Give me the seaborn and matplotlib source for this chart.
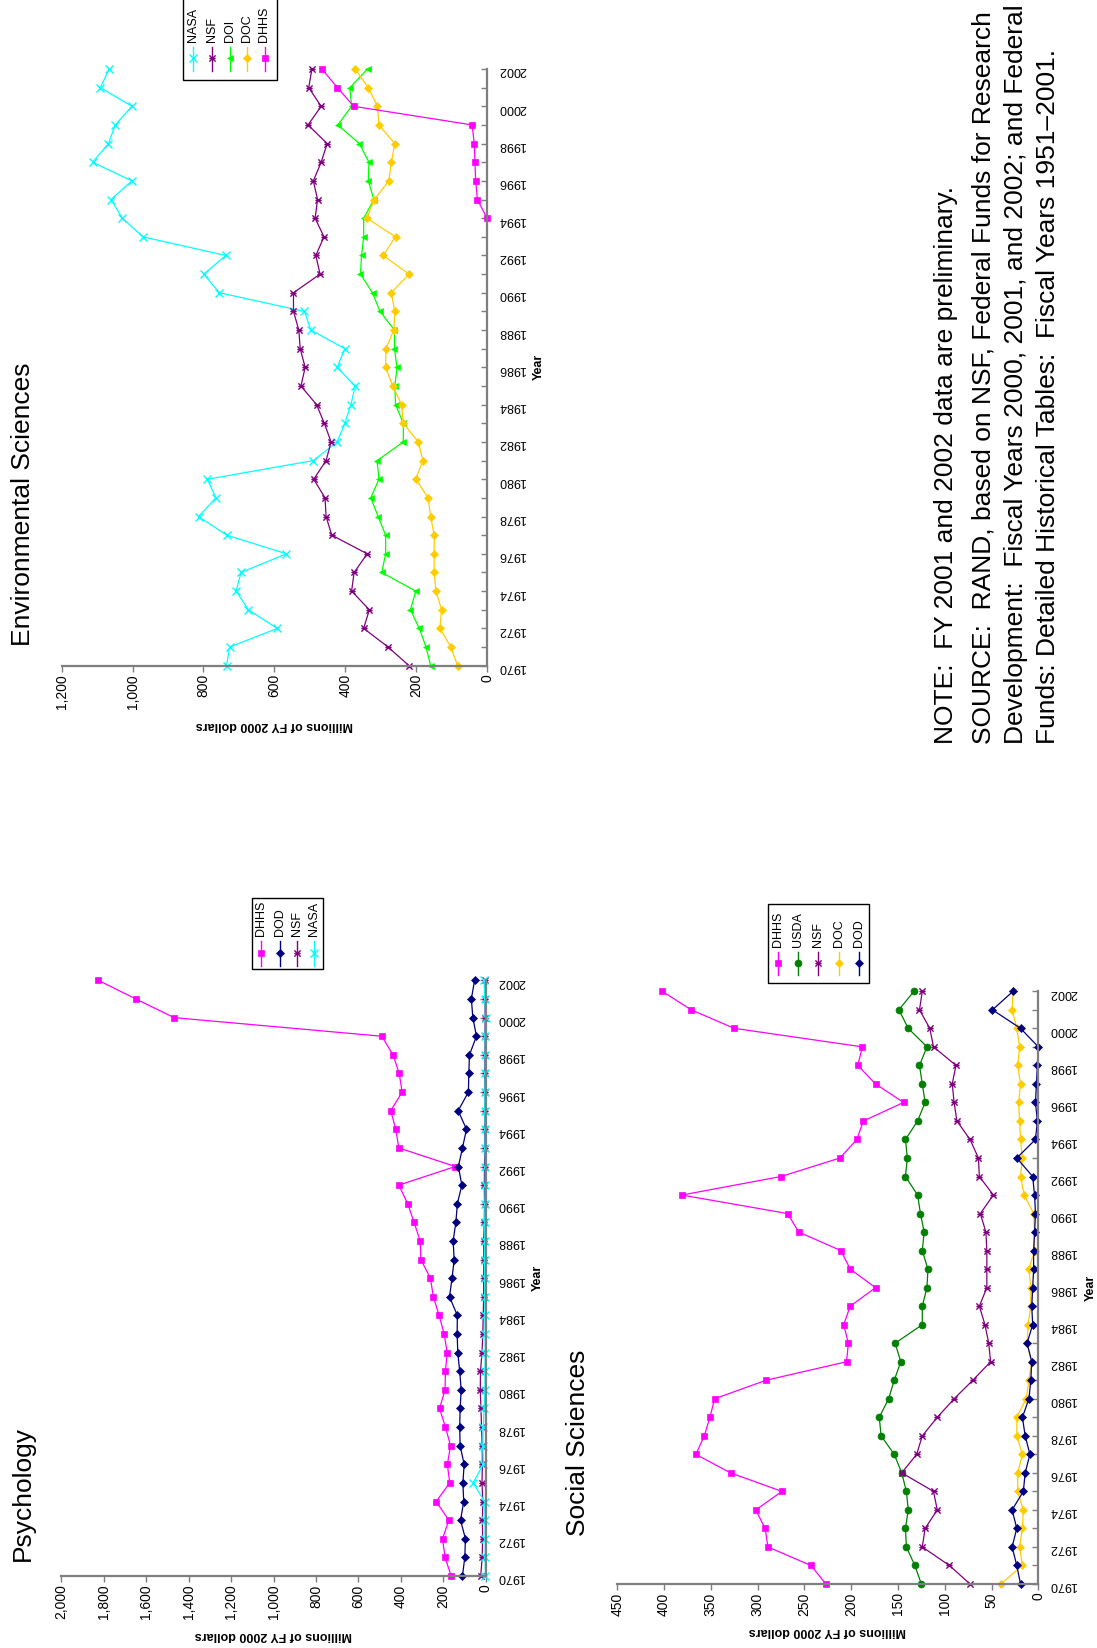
import numpy as np
import matplotlib
matplotlib.use('Agg')
import matplotlib.pyplot as plt
from matplotlib.path import Path
from matplotlib.patches import Rectangle
from matplotlib.ticker import FuncFormatter, MultipleLocator
import seaborn as sns

plt.rcParams['font.family'] = ['Liberation Sans', 'DejaVu Sans']

years = np.arange(1970, 2003)

# Environmental Sciences
env_nasa = [735, 726, 592, 673, 708, 694, 566, 734, 814, 765, 789, 490, 423, 401, 384, 372, 423,
            401, 497, 515, 755, 799, 737, 971, 1029, 1061, 1002, 1113, 1068, 1049, 1002, 1091, 1066]
env_nsf = [220, 279, 348, 332, 382, 375, 338, 438, 454, 457, 489, 454, 440, 459, 481, 525, 513,
           527, 531, 546, 546, 471, 483, 460, 485, 478, 490, 468, 451, 505, 468, 503, 494]
env_doi = [159, 172, 191, 216, 201, 297, 286, 286, 307, 328, 305, 310, 236, 236, 258, 260, 254,
           261, 261, 302, 323, 357, 354, 348, 348, 319, 335, 333, 360, 421, 382, 387, 337]
env_doc = [83, 102, 133, 128, 144, 149, 149, 149, 159, 166, 201, 181, 194, 236, 241, 266, 286,
           285, 263, 260, 270, 220, 293, 258, 339, 318, 277, 270, 260, 305, 309, 335, 372]
env_dhhs = [np.nan] * 24 + [0, 27, 32, 34, 36, 42, 376, 422, 466]

# Psychology
psy_dhhs = [163, 192, 204, 174, 234, 170, 181, 166, 190, 218, 192, 190, 182, 196, 220, 247, 261,
            306, 309, 338, 368, 410, 144, 410, 424, 448, 394, 408, 437, 490, 1469, 1648, 1825]
psy_dod = [110, 99, 96, 119, 104, 108, 102, 121, 123, 121, 116, 123, 132, 135, 134, 171, 159,
           149, 154, 141, 134, 113, 129, 110, 91, 130, 82, 80, 77, 44, 61, 68, 53]
psy_nsf = [24, 17, 15, 16, 14, 18, 16, 17, 20, 23, 26, 25, 18, 14, 12, 10, 10,
           9, 10, 7, 6, 7, 6, 5, 5, 5, 4, 5, 4, 4, 3, 4, 4]
psy_nasa = [2, 3, 3, 4, 5, 60, 12, 14, 12, 8, 4, 4, 3, 3, 4, 5, 5,
            6, 5, 5, 4, 3, 2, 4, 3, 5, 4, 3, 2, 4, 0, 5, 8]

# Social Sciences
soc_dhhs = [227, 243, 289, 292, 302, 274, 329, 366, 357, 351, 346, 291, 205, 203, 208, 201, 174,
            201, 211, 256, 268, 381, 275, 212, 194, 187, 144, 174, 193, 188, 325, 371, 402]
soc_usda = [125, 132, 141, 142, 139, 141, 146, 154, 168, 170, 160, 154, 147, 153, 124, 124, 119,
            118, 124, 122, 126, 129, 142, 140, 142, 129, 121, 124, 127, 119, 139, 149, 133]
soc_nsf = [73, 95, 124, 121, 108, 112, 146, 130, 124, 108, 90, 70, 51, 53, 57, 63, 55,
           55, 55, 56, 62, 48, 63, 64, 73, 87, 90, 92, 88, 112, 116, 127, 124]
soc_doc = [40, 17, 20, 17, 16, 22, 22, 17, 23, 23, 13, 10, 7, 12, 11, 8, 8,
           10, 4, 4, 5, 15, 19, 17, 19, 20, 21, 19, 22, 20, 23, 28, 27]
soc_dod = [19, 23, 28, 23, 28, 16, 14, 9, 14, 17, 10, 8, 7, 12, 6, 7, 6,
           5, 5, 4, 3, 4, 6, 23, 3, 1, 3, 2, 1, 0, 19, 49, 27]

star = Path([(-1, -1), (1, 1), (-1, 1), (1, -1), (-1, 0), (1, 0)],
            [Path.MOVETO, Path.LINETO, Path.MOVETO, Path.LINETO, Path.MOVETO, Path.LINETO])

CYAN, PURPLE, LIME, GOLD, MAGENTA = '#00FFFF', '#800080', '#00FF00', '#FFCC00', '#FF00FF'
NAVY, GREEN = '#000080', '#008000'
style = {
    'NASA': (CYAN, 'x', 5.5, True),
    'NSF': (PURPLE, star, 4.5, True),
    'DOI': (LIME, '<', 5, False),
    'DOC': (GOLD, 'D', 4, False),
    'DHHS': (MAGENTA, 's', 5, False),
    'DOD': (NAVY, 'D', 4, False),
    'USDA': (GREEN, 'o', 5, False),
}

W, H = 1097, 1648
fig = plt.figure(figsize=(W / 100, H / 100), dpi=100)


def panel(box, series, xmax, xstep, ylabel_pad):
    x0, x1, y0, y1 = box
    ax = fig.add_axes([x0 / W, 1 - y1 / H, (x1 - x0) / W, (y1 - y0) / H])
    for name, vals in series:
        color, marker, ms, hollow = style[name]
        vals = np.asarray(vals, dtype=float)
        ok = ~np.isnan(vals)
        sns.lineplot(x=vals[ok], y=years[ok], orient='y', estimator=None, ax=ax,
                     color=color, linewidth=0.9, marker=marker, markersize=ms,
                     markeredgecolor=color, markerfacecolor='none' if hollow else color,
                     markeredgewidth=1.0 if hollow else 0.5, clip_on=False, legend=False)
    ax.set_xlim(xmax, 0)
    ax.set_ylim(1970, 2002)
    ax.xaxis.set_major_locator(MultipleLocator(xstep))
    ax.xaxis.set_major_formatter(FuncFormatter(lambda v, p: f'{v:,.0f}'))
    ax.yaxis.set_major_locator(MultipleLocator(2))
    ax.yaxis.set_minor_locator(MultipleLocator(1))
    ax.yaxis.tick_right()
    ax.yaxis.set_label_position('right')
    for s in ['top', 'left']:
        ax.spines[s].set_visible(False)
    for s in ['right', 'bottom']:
        ax.spines[s].set_color('#7f7f7f')
        ax.spines[s].set_linewidth(1.6)
    ax.tick_params(axis='x', direction='out', length=4, width=1, color='#7f7f7f',
                   labelsize=10, labelrotation=90, pad=2)
    ax.tick_params(axis='y', which='both', direction='in', length=4, width=1,
                   color='#7f7f7f', labelsize=9, labelrotation=180, pad=8)
    ax.set_xlabel('Millions of FY 2000 dollars', rotation=180, fontweight='bold',
                  fontsize=9, labelpad=7)
    ax.set_ylabel('Year', rotation=90, fontweight='bold', fontsize=9, labelpad=ylabel_pad)
    ax.set_facecolor('none')
    return ax


panel((61.7, 487, 69, 665.7),
      [('NASA', env_nasa), ('NSF', env_nsf), ('DOI', env_doi), ('DOC', env_doc), ('DHHS', env_dhhs)],
      1200, 200, 5)
panel((61.3, 485.8, 980.4, 1576),
      [('DHHS', psy_dhhs), ('DOD', psy_dod), ('NSF', psy_nsf), ('NASA', psy_nasa)],
      2000, 200, 5)
panel((617.3, 1038.3, 991.3, 1584),
      [('DHHS', soc_dhhs), ('USDA', soc_usda), ('NSF', soc_nsf), ('DOC', soc_doc), ('DOD', soc_dod)],
      450, 50, 5)

# overlay in pixel coordinates for titles, legends and note
ov = fig.add_axes([0, 0, 1, 1], zorder=5)
ov.set_xlim(0, W)
ov.set_ylim(H, 0)
ov.axis('off')
ov.patch.set_alpha(0)

ov.text(23, 646, 'Environmental Sciences', rotation=90, ha='center', va='bottom', fontsize=19)
ov.text(23, 1561, 'Psychology', rotation=90, ha='center', va='bottom', fontsize=19)
ov.text(578, 1536, 'Social Sciences', rotation=90, ha='center', va='bottom', fontsize=19)


def legend(box, names, xs, text_bottom, marker_y, line_y):
    bx0, bx1, by0, by1 = box
    ov.add_patch(Rectangle((bx0, by0), bx1 - bx0, by1 - by0, facecolor='white',
                           edgecolor='black', linewidth=1.0, clip_on=False))
    for name, x in zip(names, xs):
        color, marker, ms, hollow = style[name]
        ov.plot([x, x], line_y, color=color, linewidth=1.0, clip_on=False)
        ov.plot([x], [marker_y], color=color, marker=marker, markersize=ms,
                markeredgecolor=color, markerfacecolor='none' if hollow else color,
                markeredgewidth=1.0 if hollow else 0.5, clip_on=False)
        ov.text(x, text_bottom, name, rotation=90, ha='center', va='bottom', fontsize=9)


legend((183, 277, -3, 80), ['NASA', 'NSF', 'DOI', 'DOC', 'DHHS'],
       [193, 212, 229.5, 247, 264.5], 42, 58, (47, 71))
legend((252, 323, 898, 969), ['DHHS', 'DOD', 'NSF', 'NASA'],
       [261, 279.5, 297, 314], 936, 953, (941, 966))
legend((768, 869, 904, 983), ['DHHS', 'USDA', 'NSF', 'DOC', 'DOD'],
       [778, 798, 818, 839, 859], 947, 963, (952, 975))

notes = ['NOTE:  FY 2001 and 2002 data are preliminary.',
         'SOURCE:  RAND, based on NSF, Federal Funds for Research',
         'Development:  Fiscal Years 2000, 2001, and 2002; and Federal',
         'Funds: Detailed Historical Tables:  Fiscal Years 1951\u20132001.']
for x, line in zip([946, 983.5, 1016, 1048], notes):
    ov.text(x, 744, line, rotation=90, ha='center', va='bottom', fontsize=19)

fig.savefig('out.png', dpi=100)
